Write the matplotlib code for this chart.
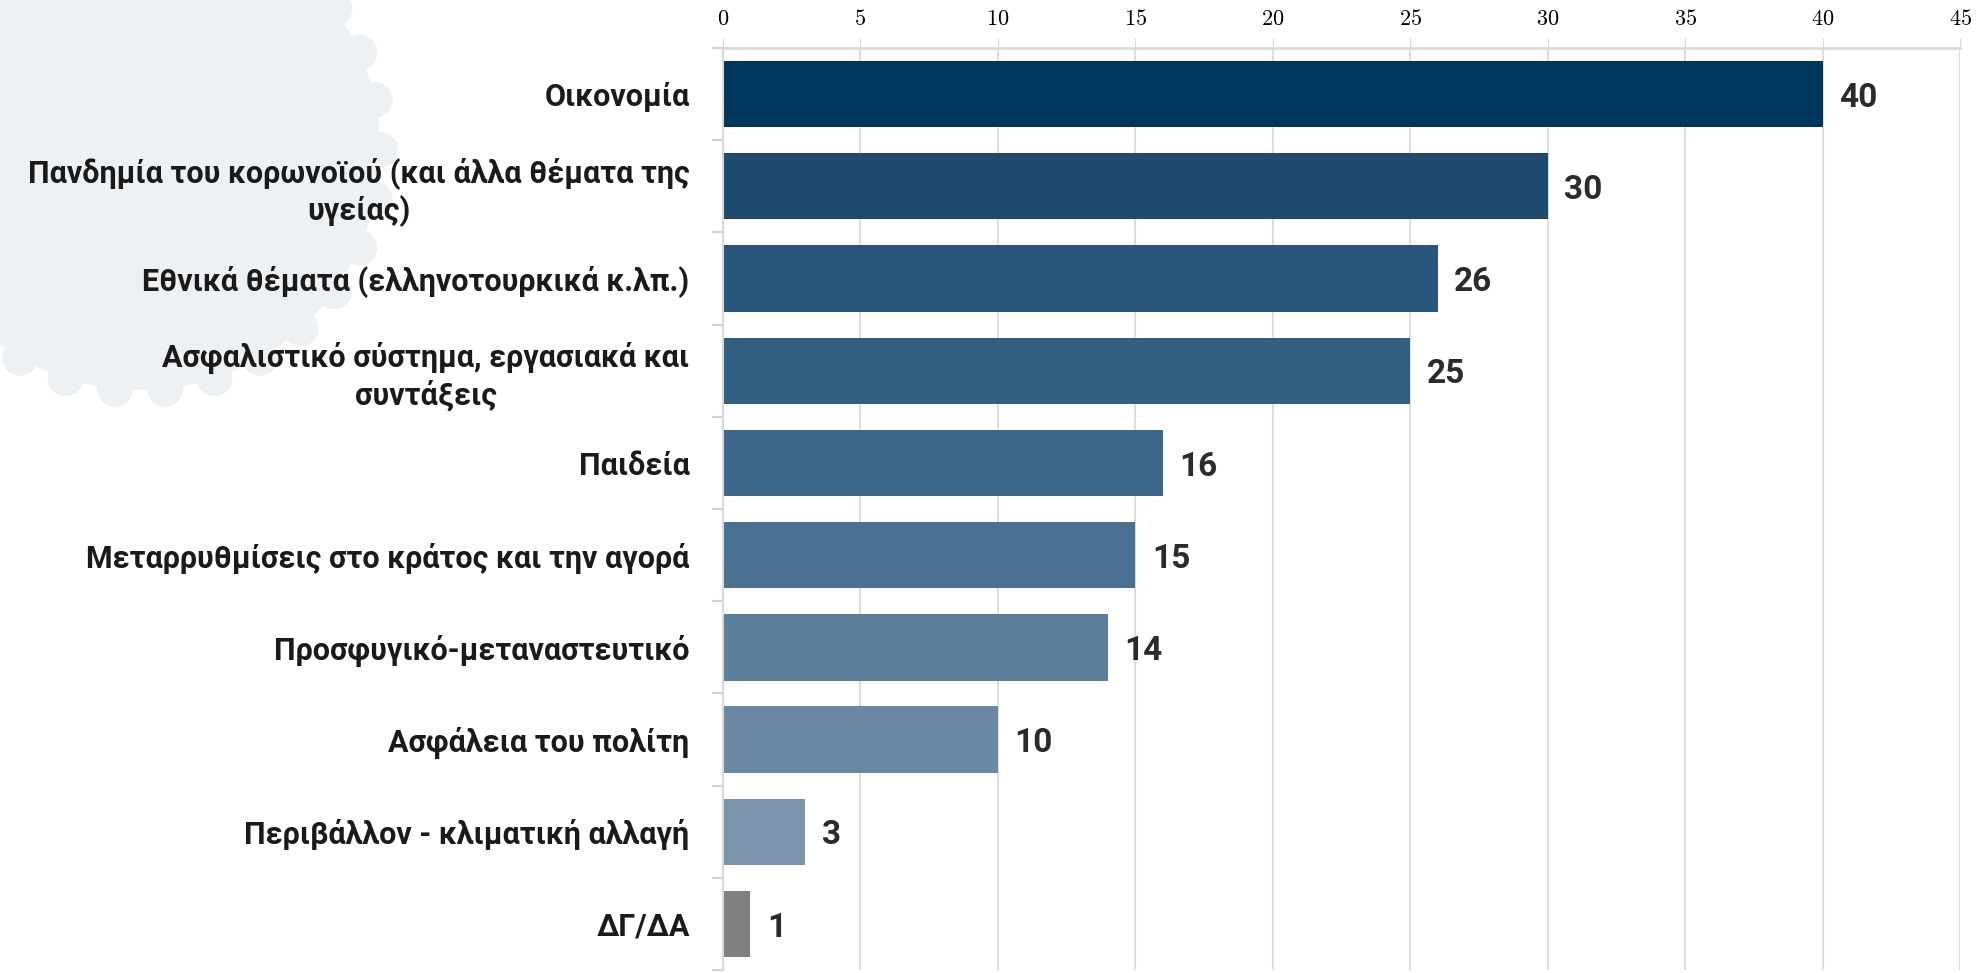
import matplotlib.pyplot as plt
import matplotlib.patches as mpatches
import numpy as np

categories = ['Οικονομία',
              'Πανδημία του κορωνοϊού (και άλλα θέματα της\nυγείας)',
              'Εθνικά θέματα (ελληνοτουρκικά κ.λπ.)',
              'Ασφαλιστικό σύστημα, εργασιακά και\nσυντάξεις',
              'Παιδεία',
              'Μεταρρυθμίσεις στο κράτος και την αγορά',
              'Προσφυγικό-μεταναστευτικό',
              'Ασφάλεια του πολίτη',
              'Περιβάλλον - κλιματική αλλαγή',
              'ΔΓ/ΔΑ']
values = [40, 30, 26, 25, 16, 15, 14, 10, 3, 1]
colors = ['#00365c', '#1f4a6e', '#29557a', '#325e80', '#3d6688',
          '#4a7191', '#5b7e9a', '#6a88a2', '#7a95ab', '#808080']
xticks = [0, 5, 10, 15, 20, 25, 30, 35, 40, 45]

label_font = ['Roboto', 'DejaVu Sans']
plt.rcParams['mathtext.fontset'] = 'cm'

fig = plt.figure(figsize=(19.85, 9.73), dpi=100)

# faint virus-like backdrop in the top-left corner
bg = fig.add_axes([0, 0, 1, 1], zorder=-1)
bg.set_xlim(0, 1985)
bg.set_ylim(973, 0)
bg.axis('off')
bg.add_patch(mpatches.Circle((140, 150), 240, color='#eef1f4', lw=0))
for ang in np.linspace(0, 2 * np.pi, 30, endpoint=False):
    bg.add_patch(mpatches.Circle((140 + 240 * np.cos(ang), 150 + 240 * np.sin(ang)),
                                 18, color='#eef1f4', lw=0))

ax = fig.add_axes([0.3642, 0.003, 0.6233, 0.9477])
y = np.arange(len(categories))
ax.barh(y, values, height=0.72, color=colors, zorder=2)
for yi, v in zip(y, values):
    ax.text(v + 0.6, yi + 0.04, str(v), va='center', ha='left', fontsize=24,
            fontweight='bold', color='#2b2b2b', family=label_font)

ax.set_xlim(0, 45)
ax.set_ylim(len(categories) - 0.5, -0.5)
ax.xaxis.tick_top()
ax.set_xticks(xticks)
ax.set_xticklabels([r'$%d$' % t for t in xticks], fontsize=16)
ax.tick_params(axis='x', length=7, color='#d9d9d9', pad=7)
ax.grid(axis='x', color='#dddddd', lw=1.5, zorder=0)

ax.set_yticks(y)
ax.set_yticklabels(categories, fontsize=22, fontweight='bold', color='#1a1a1a',
                   family=label_font, multialignment='center')
ax.set_yticks(np.arange(-0.5, len(categories), 1), minor=True)
ax.tick_params(axis='y', which='major', length=0, pad=24)
ax.tick_params(axis='y', which='minor', length=8, color='#d0d0d0', width=1.5)

for s in ['right', 'bottom']:
    ax.spines[s].set_visible(False)
ax.spines['top'].set_color('#d9d9d9')
ax.spines['top'].set_linewidth(2)
ax.spines['left'].set_color('#d9d9d9')
ax.spines['left'].set_linewidth(1.5)
ax.patch.set_alpha(0)

fig.savefig('out.png', dpi=100)
